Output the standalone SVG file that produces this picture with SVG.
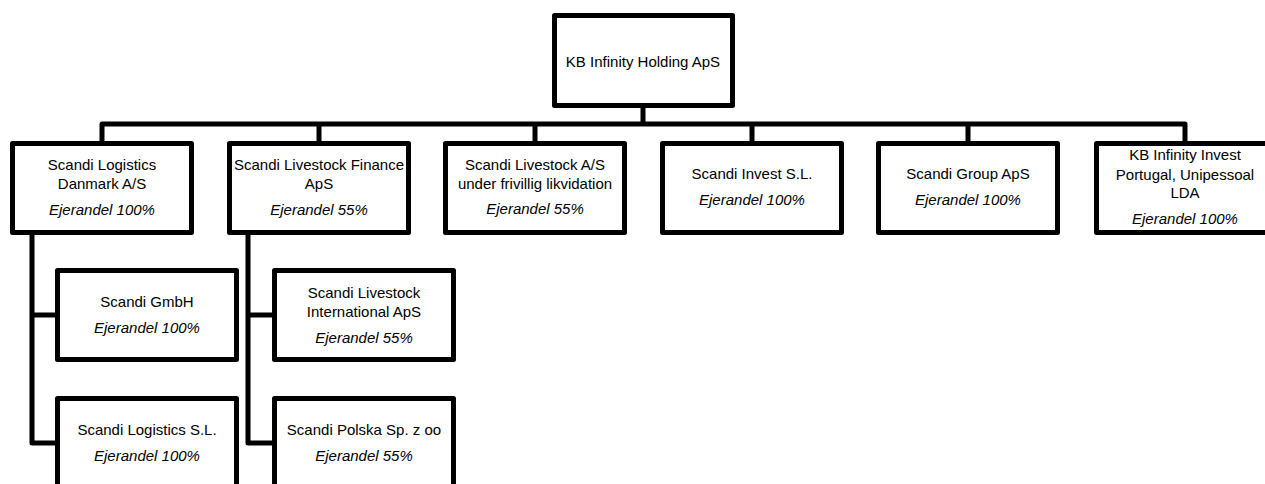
<svg xmlns="http://www.w3.org/2000/svg" width="1265" height="484" viewBox="0 0 1265 484">
<style>
.box{fill:#fff;stroke:#000;stroke-width:5;stroke-linejoin:round}
.c{fill:none;stroke:#000;stroke-width:5;stroke-linejoin:round}
text{font-family:"Liberation Sans",Arial,sans-serif;font-size:15px;fill:#000;text-anchor:middle}
.i{font-style:italic}
</style>
<rect width="1265" height="484" fill="#fff"/>
<g id="connectors">
<path class="c" d="M643,108 V124"/>
<path class="c" d="M102,141 V124 H1185 V141"/>
<path class="c" d="M319,124 V141 M535,124 V141 M752,124 V141 M968,124 V141"/>
<path class="c" d="M32,235 V443 H55 M32,315 H55"/>
<path class="c" d="M248,235 V443 H272 M248,315 H272"/>
</g>
<g id="n0">
<rect class="box" x="554.5" y="15.5" width="178" height="90"/>
<text x="643" y="67">KB Infinity Holding ApS</text>
</g>
<g id="n1">
<rect class="box" x="12.5" y="143.5" width="179" height="89"/>
<text x="102" y="170">Scandi Logistics</text>
<text x="102" y="189">Danmark A/S</text>
<text class="i" x="102" y="215">Ejerandel 100%</text>
</g>
<g id="n2">
<rect class="box" x="229.5" y="143.5" width="179" height="89"/>
<text x="319" y="170">Scandi Livestock Finance</text>
<text x="319" y="189">ApS</text>
<text class="i" x="319" y="215">Ejerandel 55%</text>
</g>
<g id="n3">
<rect class="box" x="445.5" y="143.5" width="179" height="89"/>
<text x="535" y="170">Scandi Livestock A/S</text>
<text x="535" y="189">under frivillig likvidation</text>
<text class="i" x="535" y="214">Ejerandel 55%</text>
</g>
<g id="n4">
<rect class="box" x="662.5" y="143.5" width="179" height="89"/>
<text x="752" y="179">Scandi Invest S.L.</text>
<text class="i" x="752" y="205">Ejerandel 100%</text>
</g>
<g id="n5">
<rect class="box" x="878.5" y="143.5" width="179" height="89"/>
<text x="968" y="179">Scandi Group ApS</text>
<text class="i" x="968" y="205">Ejerandel 100%</text>
</g>
<g id="n6">
<rect class="box" x="1096.5" y="143.5" width="179" height="89"/>
<text x="1185" y="160">KB Infinity Invest</text>
<text x="1185" y="180">Portugal, Unipessoal</text>
<text x="1185" y="198">LDA</text>
<text class="i" x="1185" y="224">Ejerandel 100%</text>
</g>
<g id="n7">
<rect class="box" x="57.5" y="270.5" width="179" height="89"/>
<text x="147" y="307">Scandi GmbH</text>
<text class="i" x="147" y="333">Ejerandel 100%</text>
</g>
<g id="n8">
<rect class="box" x="57.5" y="398.5" width="179" height="89"/>
<text x="147" y="435">Scandi Logistics S.L.</text>
<text class="i" x="147" y="461">Ejerandel 100%</text>
</g>
<g id="n9">
<rect class="box" x="274.5" y="270.5" width="179" height="89"/>
<text x="364" y="298">Scandi Livestock</text>
<text x="364" y="317">International ApS</text>
<text class="i" x="364" y="343">Ejerandel 55%</text>
</g>
<g id="n10">
<rect class="box" x="274.5" y="398.5" width="179" height="89"/>
<text x="364" y="435">Scandi Polska Sp. z oo</text>
<text class="i" x="364" y="461">Ejerandel 55%</text>
</g>
</svg>
